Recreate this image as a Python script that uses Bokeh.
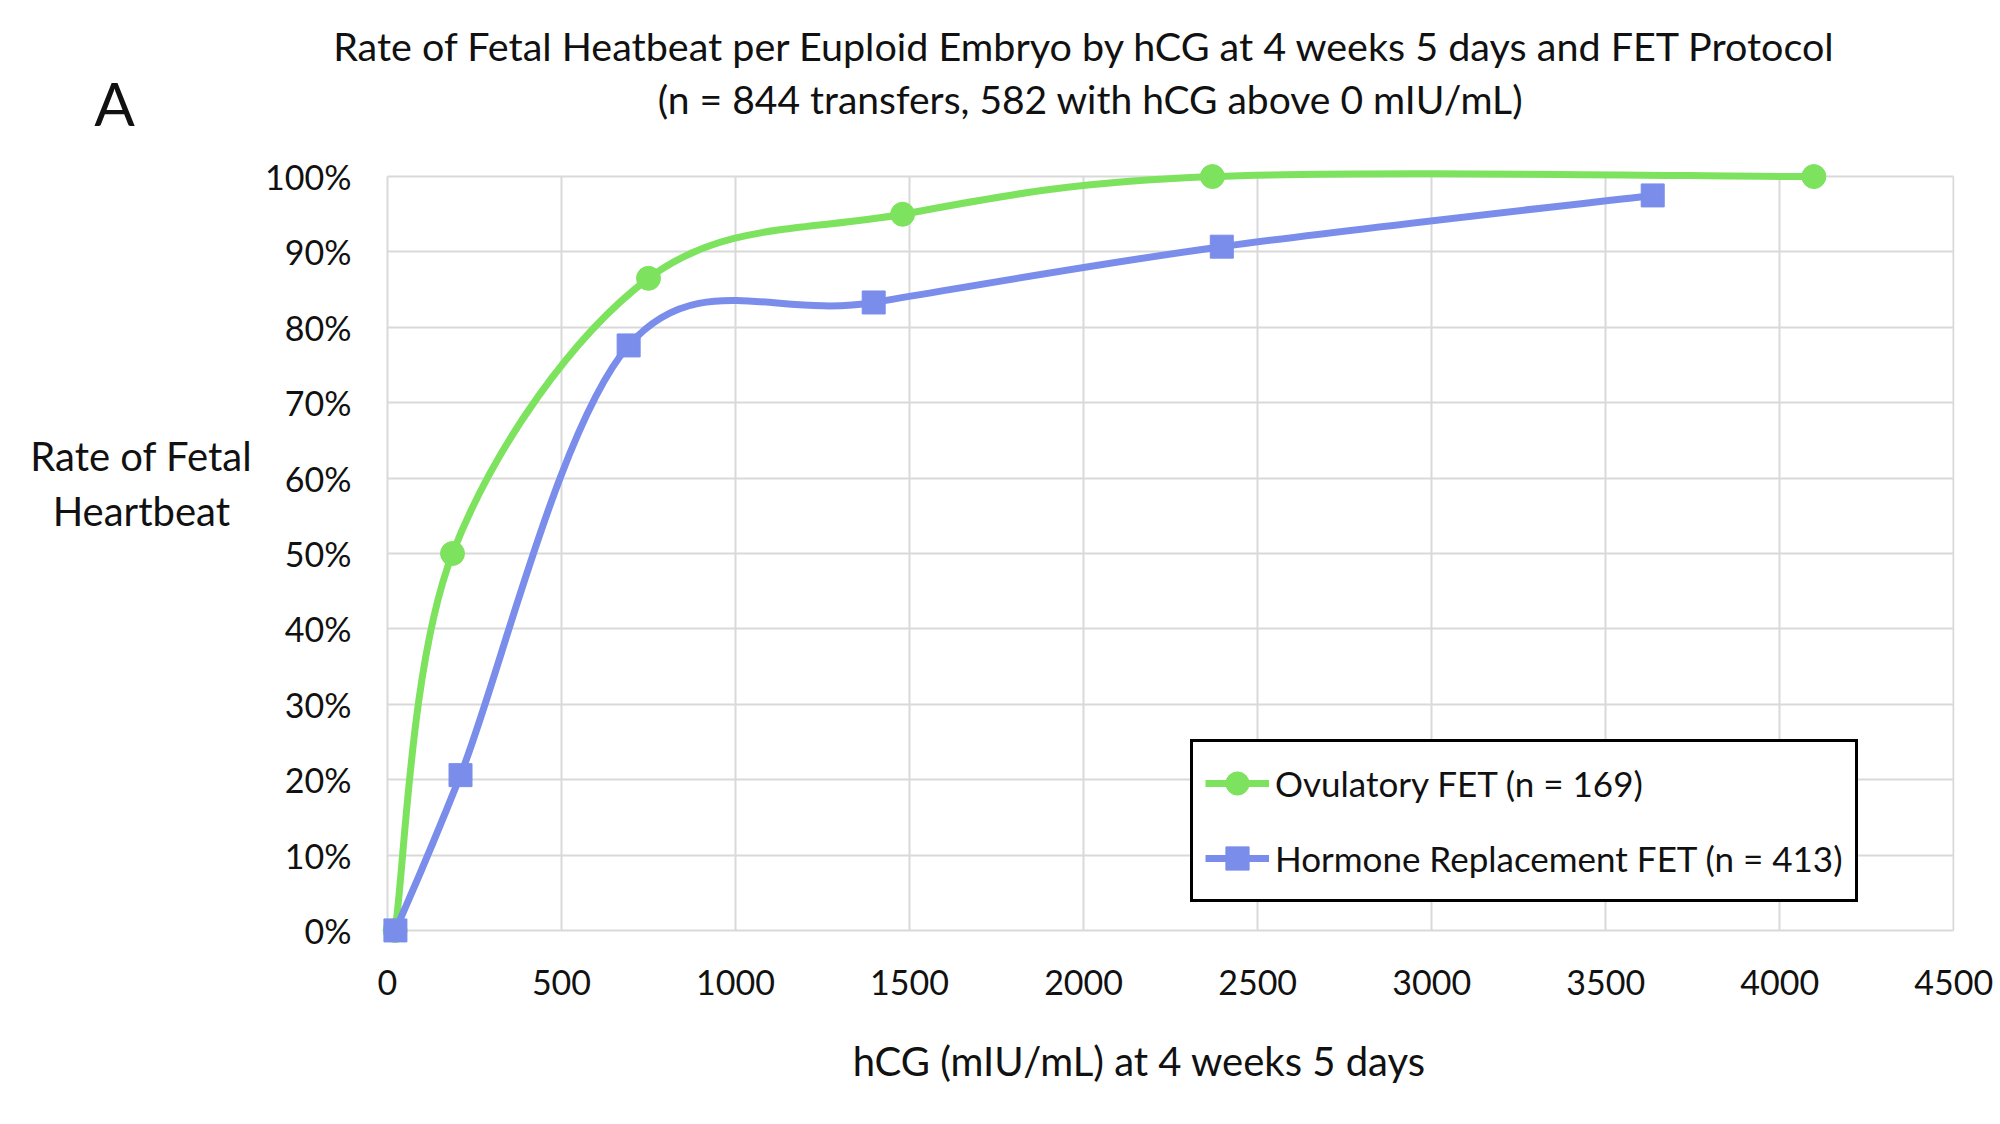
from bokeh.plotting import figure
from bokeh.models import (Range1d, FixedTicker, PrintfTickFormatter, Label,
                          Legend, LegendItem, ColumnDataSource)
from bokeh.embed import file_html
from bokeh.resources import INLINE

# ---- data ----
ovu_hcg = [22, 187, 750, 1480, 2370, 4098]
ovu_rate = [0, 50, 86.5, 95, 100, 100]
hrt_hcg = [23, 210, 693, 1397, 2397, 3635]
hrt_rate = [0, 20.6, 77.6, 83.3, 90.7, 97.5]

x_ticks = [0, 500, 1000, 1500, 2000, 2500, 3000, 3500, 4000, 4500]
y_ticks = [0, 10, 20, 30, 40, 50, 60, 70, 80, 90, 100]

title_1 = "Rate of Fetal Heatbeat per Euploid Embryo by hCG at 4 weeks 5 days and FET Protocol"
title_2 = "(n = 844 transfers, 582 with hCG above 0 mIU/mL)"
ylab_1 = "Rate of Fetal"
ylab_2 = "Heartbeat"
xlab = "hCG (mIU/mL) at 4 weeks 5 days"
ovu_label = "Ovulatory FET (n = 169)"
hrt_label = "Hormone Replacement FET (n = 413)"

GREEN = "#7DE35E"
BLUE = "#7A8DEA"
FONT = "Lato"
INK = "#111111"


def smooth_segments(xs, ys):
    """Bezier control points for a Catmull-Rom style smoothed line (Excel-like)."""
    n = len(xs)
    d = dict(x0=[], y0=[], x1=[], y1=[], cx0=[], cy0=[], cx1=[], cy1=[])
    for i in range(n - 1):
        im = max(i - 1, 0)
        ip2 = min(i + 2, n - 1)
        d["x0"].append(xs[i]); d["y0"].append(ys[i])
        d["x1"].append(xs[i + 1]); d["y1"].append(ys[i + 1])
        d["cx0"].append(xs[i] + (xs[i + 1] - xs[im]) / 6.0)
        d["cy0"].append(ys[i] + (ys[i + 1] - ys[im]) / 6.0)
        d["cx1"].append(xs[i + 1] - (xs[ip2] - xs[i]) / 6.0)
        d["cy1"].append(ys[i + 1] - (ys[ip2] - ys[i]) / 6.0)
    return ColumnDataSource(d)


p = figure(width=2000, height=1124, output_backend="svg", toolbar_location=None,
           x_range=Range1d(-40, 4502), y_range=Range1d(-2, 102),
           min_border_left=373, min_border_right=46,
           min_border_top=161, min_border_bottom=179)
p.outline_line_color = None
p.background_fill_color = "white"

# axes
for ax in (p.xaxis, p.yaxis):
    ax.axis_line_color = None
    ax.major_tick_line_color = None
    ax.minor_tick_line_color = None
    ax.major_tick_in = 0
    ax.major_tick_out = 0
    ax.major_label_text_font = FONT
    ax.major_label_text_font_size = "34px"
    ax.major_label_text_color = INK
p.xaxis.ticker = FixedTicker(ticks=x_ticks)
p.yaxis.ticker = FixedTicker(ticks=y_ticks)
p.yaxis.formatter = PrintfTickFormatter(format="%d%%")
p.yaxis.major_label_standoff = 22
p.xaxis.major_label_standoff = 24

# grid
p.xgrid.ticker = FixedTicker(ticks=x_ticks)
p.ygrid.ticker = FixedTicker(ticks=y_ticks)
for g in (p.xgrid, p.ygrid):
    g.grid_line_color = "#D9D9D9"
    g.grid_line_width = 2
p.xgrid.cross_bounds = (0, 100)
p.ygrid.cross_bounds = (0, 4500)

# series
g_src = smooth_segments(ovu_hcg, ovu_rate)
b_src = smooth_segments(hrt_hcg, hrt_rate)
g_line = p.bezier(x0="x0", y0="y0", x1="x1", y1="y1", cx0="cx0", cy0="cy0",
                  cx1="cx1", cy1="cy1", source=g_src, line_color=GREEN, line_width=7)
g_pts = p.scatter(ovu_hcg, ovu_rate, marker="circle", size=24,
                  fill_color=GREEN, line_color=GREEN)
b_line = p.bezier(x0="x0", y0="y0", x1="x1", y1="y1", cx0="cx0", cy0="cy0",
                  cx1="cx1", cy1="cy1", source=b_src, line_color=BLUE, line_width=7)
b_pts = p.scatter(hrt_hcg, hrt_rate, marker="square", size=23,
                  fill_color=BLUE, line_color=BLUE)

legend = Legend(items=[LegendItem(label=ovu_label, renderers=[g_line, g_pts]),
                       LegendItem(label=hrt_label, renderers=[b_line, b_pts])],
                location=(817, 43))
legend.label_text_font = FONT
legend.label_text_font_size = "35px"
legend.label_text_color = INK
legend.glyph_width = 64
legend.glyph_height = 58
legend.label_height = 40
legend.label_standoff = 6
legend.spacing = 17
legend.padding = 12
legend.margin = 0
legend.border_line_color = "black"
legend.border_line_alpha = 1
legend.border_line_width = 3
legend.background_fill_color = "white"
legend.background_fill_alpha = 1
p.add_layout(legend)

# texts: data-unit labels kept in side panels so the frame does not clip them
# (spread over the sides so each side's stack stays inside its border)
def lab(x, y, text, size, side):
    p.add_layout(Label(x=x, y=y, text=text, text_font=FONT, text_font_size=size,
                       text_align="center", text_baseline="alphabetic",
                       text_color=INK), side)

lab(2006, 117.4, title_1, "39.5px", "above")
lab(2020, 110.3, title_2, "39px", "above")
lab(-784, 109.7, "A", "60px", "right")
lab(-707, 62.9, ylab_1, "40px", "left")
lab(-707, 55.6, ylab_2, "40px", "below")
lab(2160, -17.3, xlab, "40px", "below")

open("out.html", "w").write(file_html(p, INLINE))
